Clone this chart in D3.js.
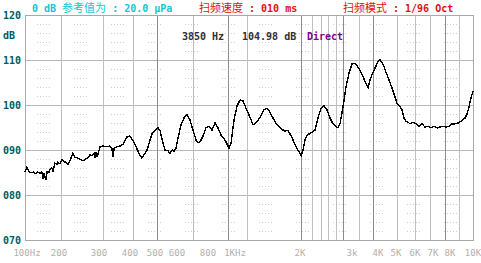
<!DOCTYPE html>
<html>
<head>
<meta charset="utf-8">
<script src="https://cdn.jsdelivr.net/npm/d3@7"></script>
<style>
  body { margin: 0; background: #fff; }
  svg { display: block; }
</style>
</head>
<body>
<div id="chart"></div>
<script>
// frequency response, 1/96 oct sweep

// x axis tick labels (Hz) and their texts
var tickFreqs = [100, 200, 300, 400, 500, 600, 800, 1000, 2000, 3000, 4000, 5000, 6000, 7000, 8000, 10000]
var tickLabels = ["100Hz", "200", "300", "400", "500", "600", "800", "1KHz", "2K", "3k", "4K", "5K", "6K", "7K", "8K", "10K"]

// vertical grid lines (Hz), darker ones separately
var gridFreqs = [204, 311, 411, 508, 696, 944, 1137, 2016, 2196, 2356, 2488, 2648, 2797, 3241, 3785, 5048, 6000, 6823, 7692, 8730]
var gridDark = [508, 944, 2016, 2797, 3785, 7692]

// y axis
var yTicks = [120, 110, 100, 90, 80, 70]
var yLabels = ["120", "110", "100", "090", "080", "070"]

// measured curve
var freqs = [100, 104, 108.5, 113, 118, 125, 130, 136, 141, 144, 147, 153, 157, 163, 166, 173, 177, 184, 192, 196,
    202, 206, 213, 219, 224, 230.5, 235, 242, 250, 255, 263, 268, 274, 279, 285, 288, 291, 294,
    303, 311, 323, 332, 338, 342, 345, 355, 365, 375, 389,
    400, 407, 418, 426, 437, 445, 453, 466, 478, 487,
    500, 513, 521, 534, 543, 557, 566, 576, 585, 595,
    606, 623, 640, 658, 677, 696, 716, 729, 743, 764, 785,
    807, 827, 848, 869, 891, 921, 944, 952, 968, 992,
    1022, 1055, 1089, 1124, 1161, 1212, 1251, 1306, 1362, 1407, 1452, 1500, 1565, 1633, 1704, 1760, 1837, 1917, 1979,
    2016, 2047, 2080, 2112, 2179, 2248, 2301, 2356, 2412, 2469, 2527, 2587, 2648, 2690, 2732, 2797, 2863, 2931,
    3000, 3101, 3206, 3314, 3426, 3502, 3581, 3661, 3743, 3869,
    4000, 4100, 4256, 4417, 4584, 4758, 4938,
    5048, 5196, 5296, 5399, 5503, 5610, 5719, 5886,
    6052, 6209, 6371, 6537, 6707, 6881,
    7055, 7223, 7396, 7572, 7752, 7937,
    8157, 8398, 8646, 8901, 9075, 9253, 9435, 9619, 9807, 10000]

var levels = [85.1, 86.2, 85.3, 84.9, 85.1, 84.7, 85.1, 84.7, 85.1, 83.6, 84.9, 83.3, 85.1, 85.1, 85.6, 86.0, 85.1, 87.1, 86.7, 87.3,
    86.9, 87.8, 87.3, 86.7, 87.8, 89.3, 88.4, 88.2, 87.8, 87.6, 88.0, 88.4, 88.9, 88.7, 89.3, 88.2, 89.6, 88.4,
    90.7, 90.9, 90.7, 90.9, 90.4, 88.4, 90.4, 90.7, 90.9, 91.3, 92.9,
    93.1, 92.4, 91.3, 90.2, 88.9, 88.2, 88.9, 90.0, 92.2, 93.6,
    94.4, 94.9, 94.4, 91.6, 90.0, 89.8, 89.3, 90.0, 89.6, 90.4,
    92.7, 95.6, 97.1, 97.8, 96.7, 94.4, 92.2, 91.6, 91.8, 93.1, 94.9,
    95.3, 94.4, 96.0, 94.9, 93.3, 92.2, 90.9, 90.4, 91.6, 96.7,
    99.8, 101.1, 100.9, 99.3, 97.8, 95.6, 96.0, 97.3, 98.9, 99.3, 98.4, 97.1, 95.6, 94.7, 94.2, 94.4, 92.7, 90.7, 89.6,
    88.7, 90.0, 92.2, 93.3, 93.8, 94.4, 97.1, 99.3, 99.8, 98.9, 97.1, 95.8, 95.3, 94.9, 95.8, 99.6, 104.0, 107.1,
    109.1, 109.3, 108.4, 107.3, 105.8, 104.7, 103.8, 105.6, 106.7, 108.2,
    109.6, 110.0, 109.1, 107.3, 105.6, 103.8, 101.8,
    100.4, 99.6, 98.9, 97.1, 96.4, 96.2, 95.8, 96.2,
    95.8, 95.3, 95.8, 95.1, 95.3, 94.9,
    95.3, 94.9, 95.1, 95.3, 95.1, 95.3,
    95.8, 95.8, 96.0, 96.4, 96.7, 97.1, 98.0, 99.6, 101.6, 103.1]

var W = 481, H = 263
// plot box (note: "top" is taken by window.top, so p-prefixed names)
var pLeft = 25, pRight = 473, pTop = 15, pBottom = 240

var svg = d3.select("#chart").append("svg")
    .attr("width", W)
    .attr("height", H)

// the analyser's axis is not a clean log: tie each labelled frequency to its place
var x = d3.scaleLog()
    .domain(tickFreqs)
    .range([pLeft, 59, 99, 130, 155, 177, 208, 235, 300, 352, 378, 396, 415, 433, 450, pRight])

var y = d3.scaleLinear()
    .domain([70, 120])
    .range([pBottom, pTop])

var mono = "'DejaVu Sans Mono', 'Liberation Mono', monospace"
var cjk = "'Noto Sans CJK SC', sans-serif"

// minor dotted lines every 2 dB
var minor = d3.range(72, 120, 2).filter(function(v) { return v % 10 != 0 })
svg.append("g").selectAll("line")
    .data(minor)
    .join("line")
    .attr("x1", pLeft).attr("x2", pRight)
    .attr("y1", function(d) { return Math.round(y(d)) + 0.5 })
    .attr("y2", function(d) { return Math.round(y(d)) + 0.5 })
    .attr("stroke", "#cccccc")
    .attr("stroke-width", 1)
    .attr("stroke-dasharray", "1 2 1 2 1 2 1 2 1 24")
    .attr("stroke-dashoffset", -12)

// major horizontal lines
svg.append("g").selectAll("line")
    .data(yTicks)
    .join("line")
    .attr("x1", pLeft).attr("x2", pRight)
    .attr("y1", function(d) { return Math.round(y(d)) + 0.5 })
    .attr("y2", function(d) { return Math.round(y(d)) + 0.5 })
    .attr("stroke", "#b8b8b8")

// vertical lines
svg.append("g").selectAll("line")
    .data(gridFreqs)
    .join("line")
    .attr("x1", function(d) { return Math.round(x(d)) + 0.5 })
    .attr("x2", function(d) { return Math.round(x(d)) + 0.5 })
    .attr("y1", pTop).attr("y2", pBottom)
    .attr("stroke", function(d) { return gridDark.indexOf(d) >= 0 ? "#8c8c8c" : "#c0c0c0" })

// frame
svg.append("rect")
    .attr("x", pLeft + 0.5).attr("y", pTop + 0.5)
    .attr("width", pRight - pLeft).attr("height", pBottom - pTop)
    .attr("fill", "none")
    .attr("stroke", "#a8a8a8")

// y labels
svg.append("g").selectAll("text")
    .data(yTicks)
    .join("text")
    .attr("x", 3)
    .attr("y", function(d) { return y(d) + 4 })
    .text(function(d, i) { return yLabels[i] })
    .attr("font-family", mono)
    .attr("font-weight", "bold")
    .attr("font-size", 10)
    .attr("fill", "#005c5c")

svg.append("text")
    .attr("x", 3).attr("y", 39)
    .text("dB")
    .attr("font-family", mono)
    .attr("font-weight", "bold")
    .attr("font-size", 10)
    .attr("fill", "#005c5c")

// x labels
svg.append("g").selectAll("text")
    .data(tickFreqs)
    .join("text")
    .attr("x", function(d, i) { return x(d) + (i == 0 ? 2 : 0) })
    .attr("y", 256)
    .attr("text-anchor", "middle")
    .text(function(d, i) { return tickLabels[i] })
    .attr("font-family", mono)
    .attr("font-size", 9)
    .attr("fill", "#b0b0b0")

// curve, drawn aliased like the analyser screen
var pts = freqs.map(function(f, i) { return { f: f, db: levels[i] } })
var line = d3.line()
    .x(function(d) { return x(d.f) })
    .y(function(d) { return y(d.db) })

svg.append("path")
    .datum(pts)
    .attr("d", line)
    .attr("fill", "none")
    .attr("stroke", "#000")
    .attr("stroke-width", 1.4)
    .attr("shape-rendering", "crispEdges")

// header
function header(xPos, parts, color) {
    var t = svg.append("text")
        .attr("x", xPos).attr("y", 12)
        .attr("fill", color)
    parts.forEach(function(p) {
        t.append("tspan")
            .text(p[0])
            .attr("font-family", p[1] ? cjk : mono)
            .attr("font-weight", p[1] ? "normal" : "bold")
            .attr("font-size", p[1] ? 11 : 10)
    })
}
header(32, [["0 dB ", 0], ["参考值为", 1], [" : 20.0 μPa", 0]], "#10c8d0")
header(199, [["扫频速度", 1], [" : 010 ms", 0]], "#e01010")
header(343, [["扫频模式", 1], [" : 1/96 Oct", 0]], "#e01010")

// cursor readout
var readout = [["3850 Hz", 182, "#303030"], ["104.98 dB", 242, "#303030"], ["Direct", 307, "#800090"]]
readout.forEach(function(r) {
    svg.append("text")
        .attr("x", r[1]).attr("y", 40)
        .text(r[0])
        .attr("font-family", mono)
        .attr("font-weight", "bold")
        .attr("font-size", 10)
        .attr("fill", r[2])
})
</script>
</body>
</html>
